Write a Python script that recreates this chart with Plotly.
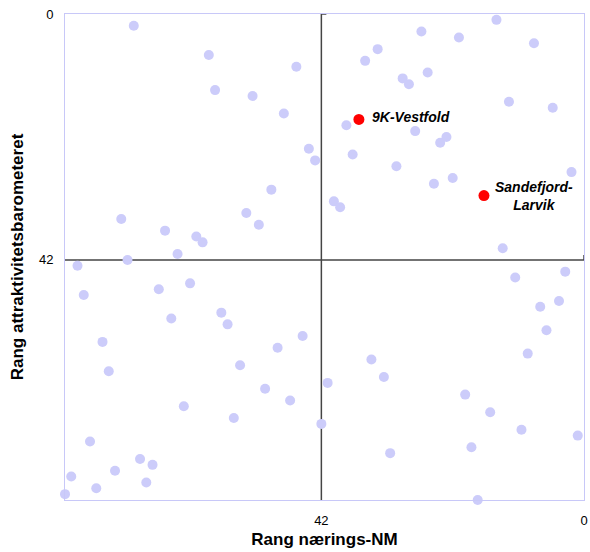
import plotly.graph_objects as go

# Ranks (x = Rang nærings-NM, y = Rang attraktivitetsbarometeret)
other_x = [72, 60, 46, 59, 53, 48, 50, 74, 54, 52, 67, 62, 61, 65, 73, 81, 44, 43,
           14, 26, 20, 8, 33, 35, 25, 29, 28, 12, 5, 38, 27, 22, 23, 37, 30, 2, 21, 24,
           40, 39, 13,
           80, 68, 63, 66, 58, 57, 77, 49, 76, 55, 45, 51, 47, 64, 56, 79, 71, 69, 82,
           75, 70, 78, 83,
           11, 3, 7, 4, 6, 9, 34, 32, 41, 19, 15, 42, 10, 1, 18, 31, 17]
other_y = [2, 7, 9, 13, 14, 17, 30, 35, 34, 36, 37, 38, 39, 41, 42, 43, 23, 25,
           1, 3, 4, 5, 6, 8, 10, 11, 12, 15, 16, 19, 20, 21, 22, 24, 26, 27, 28, 29,
           32, 33, 40,
           48, 47, 46, 52, 51, 53, 56, 57, 61, 60, 55, 64, 66, 67, 69, 73, 76, 77, 79,
           78, 80, 81, 82,
           45, 44, 50, 49, 54, 58, 59, 62, 63, 65, 68, 70, 71, 72, 74, 75, 83]

hl_names = ["9K-Vestfold", "Sandefjord-<br>Larvik"]
hl_x = [36, 16]
hl_y = [18, 31]

tick_vals = [0, 42]
tick_text = ["0", "42"]
center = 42
axis_max = 83

fig = go.Figure()
fig.add_trace(go.Scatter(
    x=other_x, y=other_y, mode="markers",
    marker=dict(size=10, color="#ccccfa"),
    cliponaxis=False, showlegend=False, hoverinfo="x+y"))
fig.add_trace(go.Scatter(
    x=hl_x, y=hl_y, mode="markers",
    marker=dict(size=11, color="#ff0000"),
    cliponaxis=False, showlegend=False, hoverinfo="x+y"))

for name, xv, yv, ys in zip(hl_names, hl_x, hl_y, [2, 0]):
    fig.add_annotation(x=xv, y=yv, text="<b><i>" + name + "</i></b>",
                       showarrow=False, xanchor="left", yanchor="middle",
                       xshift=11 if "9K" in name else 9, yshift=ys, align="center",
                       font=dict(family="Liberation Sans, Arial", size=14, color="#000"))

line_col = "#444444"
# centre cross lines at rank 42
fig.add_shape(type="line", xref="x", yref="y", x0=center, x1=center, y0=0, y1=axis_max,
              line=dict(color=line_col, width=1.5), layer="below")
fig.add_shape(type="line", xref="x", yref="y", x0=axis_max, x1=0, y0=center, y1=center,
              line=dict(color=line_col, width=1.5), layer="below")
# small end ticks
fig.add_shape(type="line", xref="x", yref="y", xsizemode="pixel", xanchor=center,
              x0=0, x1=5, y0=0, y1=0, line=dict(color=line_col, width=1.5))
fig.add_shape(type="line", xref="x", yref="y", ysizemode="pixel", yanchor=center,
              y0=0, y1=5, x0=0, x1=0, line=dict(color=line_col, width=1.5))

frame_col = "#c8c8f8"
font_fam = "Liberation Sans, Arial"
fig.update_layout(
    width=590, height=552,
    margin=dict(l=65, r=6, t=14, b=52),
    plot_bgcolor="white", paper_bgcolor="white",
    font=dict(family=font_fam, size=13, color="#000"),
    xaxis=dict(range=[axis_max, 0], tickvals=tick_vals, ticktext=tick_text,
               showgrid=False, zeroline=False, showline=True, mirror=True,
               linecolor=frame_col, linewidth=1, ticks="", ticklabelstandoff=8,
               automargin=False, ticklabeloverflow="allow",
               title=dict(text="<b>Rang nærings-NM</b>", standoff=6,
                          font=dict(size=17, family=font_fam))),
    yaxis=dict(range=[axis_max, 0], tickvals=tick_vals, ticktext=tick_text,
               showgrid=False, zeroline=False, showline=True, mirror=True,
               linecolor=frame_col, linewidth=1, ticks="", ticklabelstandoff=8,
               automargin=False, ticklabeloverflow="allow",
               title=dict(text="<b>Rang attraktivitetsbarometeret</b>", standoff=10,
                          font=dict(size=17, family=font_fam))),
)

fig.write_html("out.html",
               config={"displayModeBar": False},
               post_script="document.body.style.margin='0';"
                           "document.body.style.overflow='hidden';")
